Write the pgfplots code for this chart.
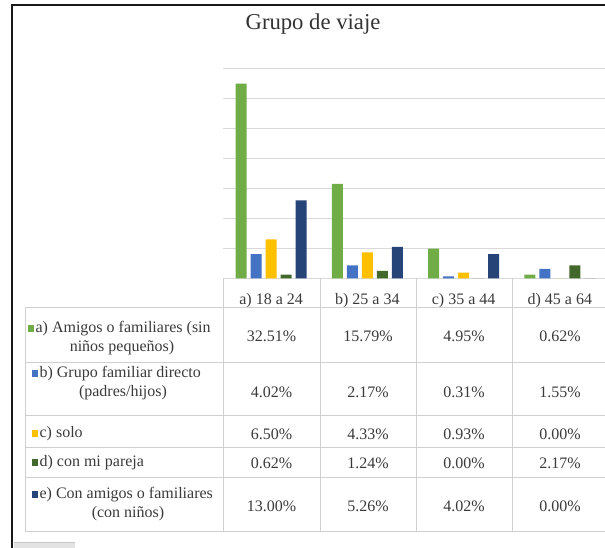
\documentclass[border=0pt]{standalone}
\usepackage{fontspec}
\setmainfont{Liberation Serif}
\usepackage{pgfplots}
\pgfplotsset{compat=1.18}
\definecolor{cA}{HTML}{70AD47}
\definecolor{cB}{HTML}{4472C4}
\definecolor{cC}{HTML}{FFC000}
\definecolor{cD}{HTML}{43682B}
\definecolor{cE}{HTML}{264478}
\definecolor{gridc}{HTML}{D9D9D9}
\definecolor{tabc}{HTML}{CFCFCF}
\definecolor{txt}{HTML}{3A3A3A}
\newcommand{\sq}[1]{\textcolor{#1}{\rule{4pt}{5.5pt}}\hspace{1.5pt}}
\begin{document}
\begin{tikzpicture}
\begin{axis}[
  at={(167.25pt,-208.7pt)}, anchor=south west,
  scale only axis, width=288.75pt, height=157.1pt,
  xmin=-0.5, xmax=3.5, ymin=0, ymax=35,
  ytick={0,5,...,35}, yticklabels={},
  ymajorgrids, grid style={gridc, line width=0.75pt},
  axis line style={draw=none},
  ytick style={draw=none},
  xtick={0,1,2,3}, xticklabels={a) 18 a 24, b) 25 a 34, c) 35 a 44, d) 45 a 64},
  xtick style={draw=none},
  xticklabel style={anchor=base, yshift=-15.5pt, inner sep=0pt, font=\fontsize{12pt}{14pt}\selectfont, text=txt},
  ybar=2.85pt, bar width=8.4pt,
  clip=false,
]
\addplot[fill=cA, draw=none] coordinates {(0,32.51) (1,15.79) (2,4.95) (3,0.62)};
\addplot[fill=cB, draw=none] coordinates {(0,4.02) (1,2.17) (2,0.31) (3,1.55)};
\addplot[fill=cC, draw=none] coordinates {(0,6.50) (1,4.33) (2,0.93) (3,0.00)};
\addplot[fill=cD, draw=none] coordinates {(0,0.62) (1,1.24) (2,0.00) (3,2.17)};
\addplot[fill=cE, draw=none] coordinates {(0,13.00) (1,5.26) (2,4.02) (3,0.00)};
\end{axis}
\begin{scope}[x=0.75pt,y=-0.75pt, every node/.style={font=\fontsize{12pt}{14pt}\selectfont, text=txt, inner sep=0pt}]
% frame
\draw[line width=1.5pt, black!90] (11.5,4.5) -- (11.5,550);
\draw[line width=1.1pt, black!90] (10.5,5) -- (610,5);
\fill[gray!22] (14,542) rectangle (75,550);
\draw[gray!45, line width=0.75pt] (14,542) -- (75,542);
% title
\node[anchor=base, font=\fontsize{17pt}{20pt}\selectfont, text=black!80] at (313,30) {Grupo de viaje};
% table grid
\foreach \y in {307,362,415,447,477,531} \draw[tabc, line width=0.75pt] (25,\y) -- (610,\y);
\draw[tabc, line width=0.75pt] (25,307) -- (25,531);
\foreach \x in {223,320,416,512} \draw[tabc, line width=0.75pt] (\x,278.3) -- (\x,531);
% row labels
\node[anchor=base west] at (28,332) {\sq{cA}a) Amigos o familiares (sin};
\node[anchor=base] at (122,351) {niños pequeños)};
\node[anchor=base west] at (32,377) {\sq{cB}b) Grupo familiar directo};
\node[anchor=base] at (123,396) {(padres/hijos)};
\node[anchor=base west] at (32,437) {\sq{cC}c) solo};
\node[anchor=base west] at (32,466) {\sq{cD}d) con mi pareja};
\node[anchor=base west] at (32,498) {\sq{cE}e) Con amigos o familiares};
\node[anchor=base] at (128,517) {(con niños)};
% values
\node[anchor=base] at (271.5,341) {32.51\%};
\node[anchor=base] at (368,341) {15.79\%};
\node[anchor=base] at (464,341) {4.95\%};
\node[anchor=base] at (560,341) {0.62\%};
\node[anchor=base] at (271.5,397) {4.02\%};
\node[anchor=base] at (368,397) {2.17\%};
\node[anchor=base] at (464,397) {0.31\%};
\node[anchor=base] at (560,397) {1.55\%};
\node[anchor=base] at (271.5,439) {6.50\%};
\node[anchor=base] at (368,439) {4.33\%};
\node[anchor=base] at (464,439) {0.93\%};
\node[anchor=base] at (560,439) {0.00\%};
\node[anchor=base] at (271.5,468) {0.62\%};
\node[anchor=base] at (368,468) {1.24\%};
\node[anchor=base] at (464,468) {0.00\%};
\node[anchor=base] at (560,468) {2.17\%};
\node[anchor=base] at (271.5,511) {13.00\%};
\node[anchor=base] at (368,511) {5.26\%};
\node[anchor=base] at (464,511) {4.02\%};
\node[anchor=base] at (560,511) {0.00\%};
\end{scope}
\pgfresetboundingbox
\path[use as bounding box] (0pt,0pt) rectangle (453.75pt,-411pt);
\end{tikzpicture}
\end{document}
